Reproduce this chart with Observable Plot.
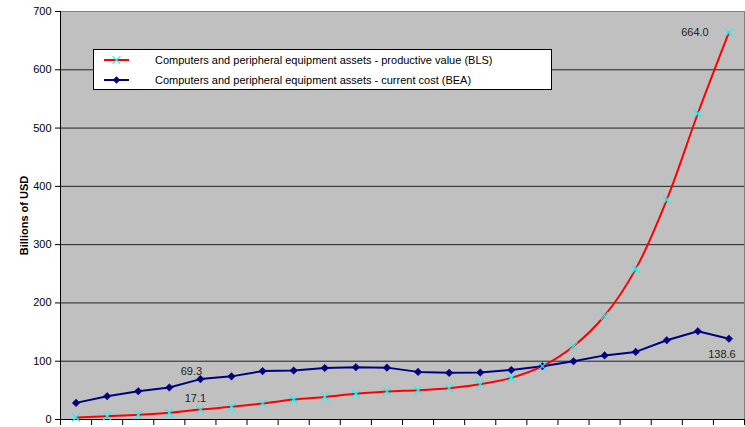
<!DOCTYPE html>
<html>
<head>
<meta charset="utf-8">
<script src="https://cdn.jsdelivr.net/npm/d3@7"></script>
<script src="https://cdn.jsdelivr.net/npm/@observablehq/plot@0.6"></script>
<style>
  body { margin: 0; background: #fff; font-family: "Liberation Sans", Arial, sans-serif; }
  #wrap { position: relative; width: 745px; height: 427px; }
  #legend { position: absolute; left: 93px; top: 49px; width: 457px; height: 39px; background: #fff; border: 1px solid #000; }
  #legend svg { display: block; }
</style>
</head>
<body>
<div id="wrap">
  <div id="chart"></div>
  <div id="legend"></div>
</div>
<script>
const years = d3.range(1983, 2005);
const blsValues = [3.4, 5.7, 8.0, 11.4, 17.1, 21.7, 27.4, 34.3, 38.8, 44.0, 48.0, 50.3, 53.7, 60.5, 71.4, 91.4, 125.7, 178.0, 258.0, 377.0, 525.0, 664.0];
const beaValues = [28.5, 40.0, 48.5, 55.0, 69.3, 74.0, 83.0, 84.0, 88.5, 89.7, 89.0, 81.7, 80.0, 80.6, 85.0, 91.4, 100.0, 110.0, 116.0, 136.0, 151.5, 138.6];
const yTicks = [0, 100, 200, 300, 400, 500, 600, 700];
const seriesNames = [
  "Computers and peripheral equipment assets - productive value (BLS)",
  "Computers and peripheral equipment assets - current cost (BEA)"
];
const yLabel = "Billions of USD";
// indices of labelled points
const blsLabelIdx = [4, 21];
const beaLabelIdx = [4, 21];

const bls = years.map((y, i) => ({year: y, value: blsValues[i]}));
const bea = years.map((y, i) => ({year: y, value: beaValues[i]}));
const x0 = years[0] - 0.5, x1 = years[years.length - 1] + 0.5;
const boundaries = d3.range(years.length + 1).map(i => x0 + i);

const font = "Liberation Sans, Arial, sans-serif";

const chart = Plot.plot({
  width: 745,
  height: 427,
  marginLeft: 60,
  marginRight: 1,
  marginTop: 11,
  marginBottom: 8,
  style: {fontFamily: font, fontSize: "11px", color: "#000", background: "#fff"},
  x: {type: "linear", domain: [x0, x1]},
  y: {domain: [0, 700]},
  marks: [
    Plot.frame({fill: "#c0c0c0", stroke: "#808080", strokeWidth: 1}),
    Plot.gridY(yTicks.filter(t => t > 0 && t < 700), {stroke: "#222", strokeOpacity: 1, strokeWidth: 1}),
    Plot.ruleX([x0], {stroke: "#000", strokeWidth: 1}),
    Plot.ruleY([0], {stroke: "#000", strokeWidth: 1}),
    Plot.axisY({ticks: yTicks, tickSize: 5, tickPadding: 4, label: null, fontSize: 11}),
    Plot.axisX({ticks: boundaries, tickSize: 6, tickFormat: () => "", label: null}),
    Plot.text([yLabel], {frameAnchor: "left", textAnchor: "middle", rotate: -90, dx: -36, fontWeight: "bold", fontSize: 11, fill: "#000"}),
    Plot.line(bea, {x: "year", y: "value", stroke: "#000080", strokeWidth: 2}),
    Plot.line(bls, {x: "year", y: "value", stroke: "#ff0000", strokeWidth: 2, curve: "catmull-rom"}),
    Plot.dot(bea, {x: "year", y: "value", symbol: "diamond2", r: 3.4, fill: "#000080", stroke: "#000080", strokeWidth: 0.5}),
    Plot.dot(bls, {x: "year", y: "value", symbol: "times", r: 3.6, stroke: "#00ffff", strokeWidth: 1.2}),
    Plot.text([bea[beaLabelIdx[0]]], {x: "year", y: "value", text: d => d.value.toFixed(1), dx: -9, dy: -8, fill: "#222", fontSize: 11}),
    Plot.text([bls[blsLabelIdx[0]]], {x: "year", y: "value", text: d => d.value.toFixed(1), dx: -5, dy: -11, fill: "#222", fontSize: 11}),
    Plot.text([bls[blsLabelIdx[1]]], {x: "year", y: "value", text: d => d.value.toFixed(1), dx: -34, dy: 0, fill: "#222", fontSize: 11}),
    Plot.text([bea[beaLabelIdx[1]]], {x: "year", y: "value", text: d => d.value.toFixed(1), dx: -7, dy: 16, fill: "#222", fontSize: 11})
  ]
});
document.getElementById("chart").appendChild(chart);

// Legend
const lsvg = d3.select("#legend").append("svg").attr("width", 457).attr("height", 39);
const rows = [
  {name: seriesNames[0], color: "#ff0000", marker: "times", mcolor: "#00ffff"},
  {name: seriesNames[1], color: "#000080", marker: "diamond", mcolor: "#000080"}
];
rows.forEach((r, i) => {
  const cy = 10 + i * 20;
  const g = lsvg.append("g");
  g.append("line").attr("x1", 10).attr("x2", 35).attr("y1", cy).attr("y2", cy).attr("stroke", r.color).attr("stroke-width", 2);
  if (r.marker === "times") {
    g.append("path").attr("d", d3.symbol(d3.symbolTimes, 40)()).attr("transform", `translate(22.5,${cy})`).attr("stroke", r.mcolor).attr("stroke-width", 1.2).attr("fill", "none");
  } else {
    g.append("path").attr("d", d3.symbol(d3.symbolDiamond2, 36)()).attr("transform", `translate(22.5,${cy})`).attr("fill", r.mcolor);
  }
  g.append("text").attr("x", 61).attr("y", cy).attr("dy", "0.35em").attr("font-family", font).attr("font-size", 11).attr("fill", "#000").text(r.name);
});
</script>
</body>
</html>
